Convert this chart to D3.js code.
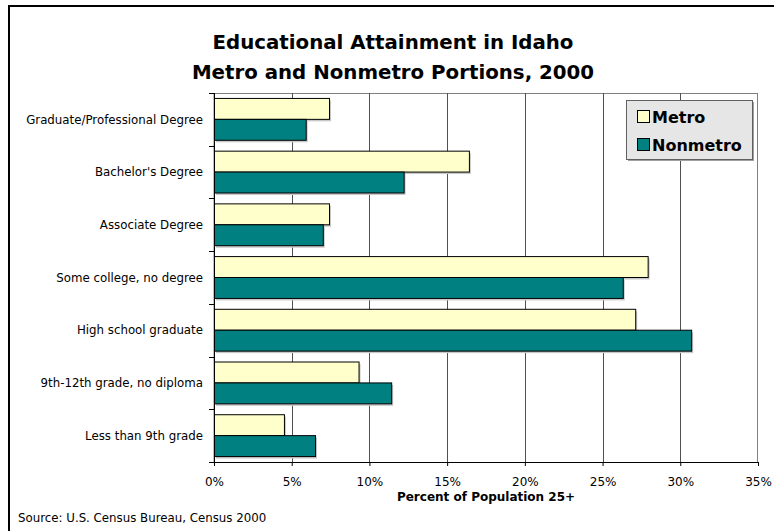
<!DOCTYPE html>
<html>
<head>
<meta charset="utf-8">
<script src="https://cdn.jsdelivr.net/npm/d3@7"></script>
<style>
  body { margin: 0; background: #fff; }
  svg { display: block; font-family: "DejaVu Sans", Verdana, sans-serif; }
</style>
</head>
<body>
<svg id="chart" width="774" height="531"></svg>
<script>
// categories top to bottom
const categories = [
    "Graduate/Professional Degree",
    "Bachelor's Degree",
    "Associate Degree",
    "Some college, no degree",
    "High school graduate",
    "9th-12th grade, no diploma",
    "Less than 9th grade"
];
const series = ["Metro", "Nonmetro"];
const metroValues = [7.4, 16.4, 7.4, 27.9, 27.1, 9.3, 4.5];
const nonmetroValues = [5.9, 12.2, 7.0, 26.3, 30.7, 11.4, 6.5];
const xTicks = [0, 5, 10, 15, 20, 25, 30, 35];
const titleLines = ["Educational Attainment in Idaho", "Metro and Nonmetro Portions, 2000"];

const colors = { Metro: "#ffffcc", Nonmetro: "#008080" };

const data = categories.map((c, i) => ({
    category: c,
    values: [
        { key: "Metro", value: metroValues[i] },
        { key: "Nonmetro", value: nonmetroValues[i] }
    ]
}));

const svg = d3.select("#chart");
const width = 774, height = 531;
const margin = { top: 93, right: 16, bottom: 69, left: 214 };
const innerWidth = width - margin.left - margin.right;
const innerHeight = height - margin.top - margin.bottom;

// outer chart border: only the left and top edges are in view
svg.append("path")
    .attr("d", `M9,${height} V6 H${width}`)
    .attr("fill", "none")
    .attr("stroke", "#000")
    .attr("stroke-width", 2);

// title
svg.selectAll(".title")
    .data(titleLines)
    .enter().append("text")
    .attr("class", "title")
    .attr("x", 393)
    .attr("y", (d, i) => 49 + i * 30)
    .attr("text-anchor", "middle")
    .attr("font-weight", "bold")
    .attr("font-size", "19.8px")
    .attr("fill", "#000")
    .text(d => d);

const g = svg.append("g")
    .attr("transform", `translate(${margin.left},${margin.top})`);

const x = d3.scaleLinear().domain([0, 35]).range([0, innerWidth]);
const y0 = d3.scaleBand().domain(categories).range([0, innerHeight]);
const y1 = d3.scaleBand().domain(series).range([0, y0.bandwidth()]).paddingOuter(0.26);

// plot area border (top/right gray)
g.append("rect")
    .attr("x", 0).attr("y", 0.5)
    .attr("width", innerWidth - 0.5).attr("height", innerHeight)
    .attr("fill", "none")
    .attr("stroke", "#808080")
    .attr("stroke-width", 1);

// gridlines
g.selectAll(".grid")
    .data(xTicks.slice(1, -1))
    .enter().append("line")
    .attr("class", "grid")
    .attr("x1", d => Math.round(x(d)) + 0.5)
    .attr("x2", d => Math.round(x(d)) + 0.5)
    .attr("y1", 0).attr("y2", innerHeight)
    .attr("stroke", "#505050");

// bars with a faint shadow
const groups = g.selectAll(".cat")
    .data(data)
    .enter().append("g")
    .attr("class", "cat")
    .attr("transform", d => `translate(0,${y0(d.category)})`);

groups.selectAll(".shadow")
    .data(d => d.values)
    .enter().append("rect")
    .attr("class", "shadow")
    .attr("x", 2)
    .attr("y", d => y1(d.key) + 2)
    .attr("width", d => x(d.value))
    .attr("height", y1.bandwidth())
    .attr("fill", "#c8c8c8");

groups.selectAll(".bar")
    .data(d => d.values)
    .enter().append("rect")
    .attr("class", "bar")
    .attr("x", 0.5)
    .attr("y", d => y1(d.key))
    .attr("width", d => x(d.value))
    .attr("height", y1.bandwidth())
    .attr("fill", d => colors[d.key])
    .attr("stroke", "#000")
    .attr("stroke-width", 1);

// x axis
const xAxis = g.append("g")
    .attr("transform", `translate(0,${innerHeight})`)
    .call(d3.axisBottom(x).tickValues(xTicks).tickFormat(d => d + "%").tickSize(4).tickPadding(11));
xAxis.select(".domain").attr("stroke", "#000");
xAxis.selectAll("text").attr("font-size", "12px").attr("fill", "#000")
    .attr("font-family", "DejaVu Sans, sans-serif");

// y axis: ticks at category boundaries
const yAxis = g.append("g");
yAxis.append("line")
    .attr("x1", 0.5).attr("x2", 0.5)
    .attr("y1", 0).attr("y2", innerHeight)
    .attr("stroke", "#000");
yAxis.selectAll(".ytick")
    .data(d3.range(categories.length + 1))
    .enter().append("line")
    .attr("class", "ytick")
    .attr("x1", -5).attr("x2", 0)
    .attr("y1", i => Math.round(i * y0.step()) + 0.5)
    .attr("y2", i => Math.round(i * y0.step()) + 0.5)
    .attr("stroke", "#000");
yAxis.selectAll(".ylabel")
    .data(categories)
    .enter().append("text")
    .attr("class", "ylabel")
    .attr("x", -11)
    .attr("y", d => y0(d) + y0.bandwidth() / 2)
    .attr("dy", "0.36em")
    .attr("text-anchor", "end")
    .attr("font-size", "11.8px")
    .attr("fill", "#000")
    .text(d => d);

// axis title
g.append("text")
    .attr("x", innerWidth / 2)
    .attr("y", innerHeight + 39)
    .attr("text-anchor", "middle")
    .attr("font-weight", "bold")
    .attr("font-size", "12px")
    .attr("fill", "#000")
    .text("Percent of Population 25+");

// legend
const legend = svg.append("g").attr("transform", "translate(626,100)");
legend.append("rect")
    .attr("x", 2).attr("y", 2).attr("width", 126).attr("height", 59)
    .attr("fill", "#a0a0a0");
legend.append("rect")
    .attr("x", 0.5).attr("y", 0.5).attr("width", 126).attr("height", 59)
    .attr("fill", "#e6e6e6")
    .attr("stroke", "#606060");
const items = legend.selectAll(".item")
    .data(series)
    .enter().append("g")
    .attr("class", "item")
    .attr("transform", (d, i) => `translate(0,${17 + i * 28})`);
items.append("rect")
    .attr("x", 11.5).attr("y", -6.5)
    .attr("width", 12).attr("height", 12)
    .attr("fill", d => colors[d])
    .attr("stroke", "#000");
items.append("text")
    .attr("x", 26)
    .attr("y", 0)
    .attr("dy", "0.36em")
    .attr("font-size", "16px")
    .attr("font-weight", "bold")
    .attr("fill", "#000")
    .text(d => d);

// source note
svg.append("text")
    .attr("x", 18)
    .attr("y", 522)
    .attr("font-size", "11.8px")
    .attr("fill", "#000")
    .text("Source: U.S. Census Bureau, Census 2000");
</script>
</body>
</html>
